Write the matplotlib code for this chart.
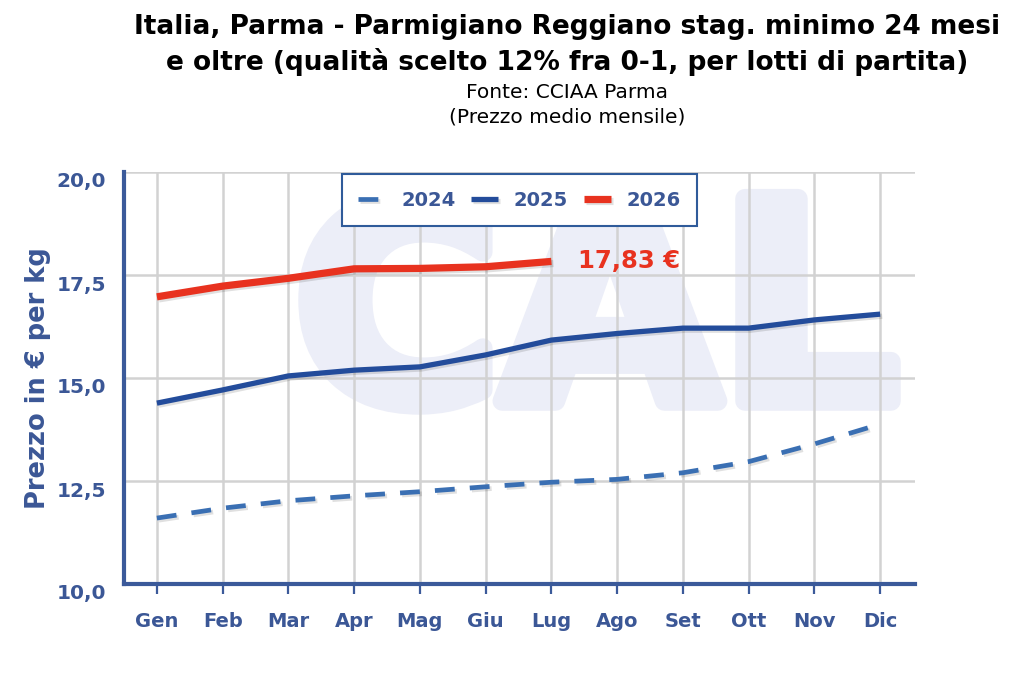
import matplotlib
matplotlib.use("Agg")
import matplotlib.pyplot as plt
from matplotlib.transforms import ScaledTranslation, Affine2D
from matplotlib.textpath import TextPath
from matplotlib.patches import PathPatch
from matplotlib.font_manager import FontProperties
import matplotlib.patheffects as pe

months = ["Gen", "Feb", "Mar", "Apr", "Mag", "Giu", "Lug", "Ago", "Set", "Ott", "Nov", "Dic"]
y2024 = [11.60, 11.84, 12.02, 12.14, 12.24, 12.36, 12.47, 12.54, 12.70, 12.97, 13.40, 13.88]
y2025 = [14.39, 14.71, 15.05, 15.19, 15.27, 15.56, 15.92, 16.08, 16.21, 16.21, 16.41, 16.55]
y2026 = [16.97, 17.23, 17.42, 17.65, 17.66, 17.70, 17.83]
yticks = [10.0, 12.5, 15.0, 17.5, 20.0]
ytick_labels = ["10,0", "12,5", "15,0", "17,5", "20,0"]
last_label = "17,83 €"

BLUE_TXT = "#3b5796"
AX_BLUE = "#3b5a9a"
C2024 = "#3a6fb3"
C2025 = "#234c9b"
C2026 = "#e8321f"
WM = "#eceef8"

plt.rcParams['font.family'] = ['DejaVu Sans']

fig = plt.figure(figsize=(10.24, 6.73), dpi=100)
W, H = 1024, 673
ax = fig.add_axes([124 / W, 1 - 584 / H, (915 - 124) / W, (584 - 172) / H])

x = list(range(len(months)))

# watermark (logo-like letters), stroked for rounded heavy look
fp = FontProperties(family="DejaVu Sans", weight="bold")
tp = TextPath((0, 0), "CAL", size=100, prop=fp)
ext = tp.get_extents()
inset_x, inset_y = 10 / 791, 10 / 412
x0, x1 = (298 - 124) / 791 + inset_x, (901 - 124) / 791 - inset_x
y0, y1 = (584 - 415) / 412 + inset_y, (584 - 185) / 412 - inset_y
tr = Affine2D().translate(-ext.x0, -ext.y0).scale((x1 - x0) / ext.width, (y1 - y0) / ext.height).translate(x0, y0)
wm = PathPatch(tr.transform_path(tp), facecolor=WM, edgecolor=WM, linewidth=14,
               joinstyle="round", transform=ax.transAxes, zorder=0.1)
ax.add_patch(wm)

shadow = [pe.SimpleLineShadow(offset=(1.5, -1.5), alpha=0.12), pe.Normal()]
ax.plot(x, y2024, color=C2024, lw=3.4, dashes=(4.2, 3.2), label="2024", zorder=3,
        path_effects=shadow, solid_capstyle="butt", dash_capstyle="butt")
ax.plot(x, y2025, color=C2025, lw=3.8, label="2025", zorder=3, path_effects=shadow,
        solid_capstyle="butt")
ax.plot(x[:len(y2026)], y2026, color=C2026, lw=5.2, label="2026", zorder=4,
        path_effects=shadow, solid_capstyle="butt")

ax.annotate(last_label, xy=(len(y2026) - 1, y2026[-1]), xytext=(27, 0),
            textcoords="offset pixels", color=C2026, fontsize=17.5, fontweight="bold",
            ha="left", va="center", zorder=5)

ax.set_xlim(-0.5, 11.53)
ax.set_ylim(10, 20)
ax.set_xticks(x)
ax.set_xticklabels(months)
ax.set_yticks(yticks)
ax.set_yticklabels(ytick_labels)

ax.set_axisbelow(True)
ax.grid(True, color="#d2d2d2", lw=1.8)
for s in ["top", "right"]:
    ax.spines[s].set_visible(False)
for s in ["left", "bottom"]:
    ax.spines[s].set_color(AX_BLUE)
    ax.spines[s].set_linewidth(3)
    ax.spines[s].set_zorder(6)

ax.tick_params(axis="x", length=7, width=1.6, color=AX_BLUE, pad=13,
               labelsize=14, labelcolor=BLUE_TXT)
ax.tick_params(axis="y", length=0, pad=13, labelsize=14.5, labelcolor=BLUE_TXT)
for lab in ax.get_xticklabels() + ax.get_yticklabels():
    lab.set_fontweight("bold")
for lab in ax.get_yticklabels():
    lab.set_transform(lab.get_transform() + ScaledTranslation(0, -8 / 100, fig.dpi_scale_trans))

ax.set_ylabel("Prezzo in € per kg", fontsize=18.5, fontweight="bold", color=BLUE_TXT, labelpad=4)

leg = ax.legend(loc="upper center", bbox_to_anchor=(0.5, 0.995), ncol=3, frameon=True,
                fancybox=False, fontsize=14, handlelength=1.4, handletextpad=0.8,
                columnspacing=0.8, borderpad=0.85, borderaxespad=0)
leg.get_frame().set_edgecolor("#2f5b9a")
leg.get_frame().set_linewidth(1.5)
leg.get_frame().set_facecolor("white")
leg.get_frame().set_alpha(1)
leg.set_zorder(7)
for t in leg.get_texts():
    t.set_color(BLUE_TXT)
    t.set_fontweight("bold")

cx = 567 / W
fig.text(cx, 1 - 27 / H, "Italia, Parma - Parmigiano Reggiano stag. minimo 24 mesi",
         ha="center", va="center", fontsize=19, fontweight="bold", color="black")
fig.text(cx, 1 - 62 / H, "e oltre (qualità scelto 12% fra 0-1, per lotti di partita)",
         ha="center", va="center", fontsize=19, fontweight="bold", color="black")
fig.text(cx, 1 - 92 / H, "Fonte: CCIAA Parma", ha="center", va="center", fontsize=14.5, color="black")
fig.text(cx, 1 - 117 / H, "(Prezzo medio mensile)", ha="center", va="center", fontsize=14.5, color="black")

fig.savefig("out.png", dpi=100)
